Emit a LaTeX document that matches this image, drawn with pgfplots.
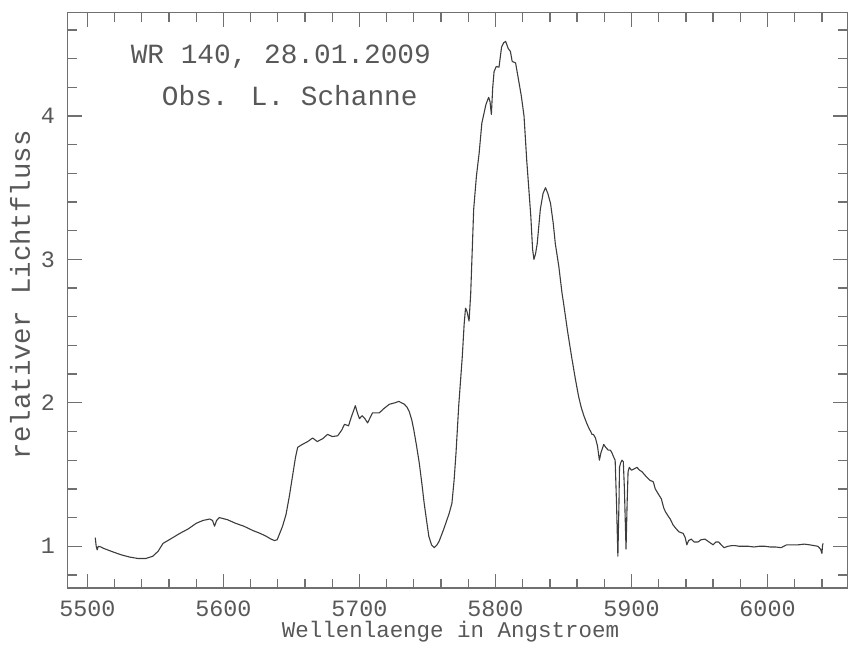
\documentclass[border=0pt]{standalone}
\usepackage{pgfplots}
\pgfplotsset{compat=1.18}
\usepackage{fontspec}
\newfontfamily\pf{Liberation Mono}
\definecolor{axgray}{HTML}{707070}
\definecolor{txtgray}{HTML}{585858}
\definecolor{linegray}{HTML}{3C3C3C}
\begin{document}
\begin{tikzpicture}
\begin{axis}[
  at={(0pt,0pt)}, anchor=north west,
  scale only axis, width=390.15pt, height=287.8pt,
  xmin=5485.5, xmax=6058.7, ymin=0.71, ymax=4.72,
  xtick={5500,5600,...,6000}, ytick={1,2,3,4},
  minor xtick={5500,5520,...,6040},
  minor ytick={0.8,1.2,1.4,1.6,1.8,2.2,2.4,2.6,2.8,3.2,3.4,3.6,3.8,4.2,4.4,4.6},
  tick align=inside, major tick length=7pt, minor tick length=4.5pt,
  axis line style={axgray, line width=0.65pt},
  tick style={axgray, line width=0.65pt},
  scaled x ticks=false,
  /pgf/number format/assume math mode=true,
  /pgf/number format/1000 sep={},
  xticklabel style={font=\pf\fontsize{11.7}{14}\selectfont, text=txtgray, anchor=center, yshift=-10.35pt},
  yticklabel style={font=\pf\fontsize{11.7}{14}\selectfont, text=txtgray, anchor=center, xshift=-9.85pt},
  xlabel={Wellenlaenge in Angstroem},
  xlabel style={at={(axis description cs:0.491,-0.0863)}, anchor=base, font=\pf\fontsize{11.25}{13}\selectfont, text=txtgray},
  ylabel={relativer Lichtfluss},
  ylabel style={at={(axis description cs:-0.0610,0.5096)}, anchor=center, font=\pf\fontsize{13.7}{15}\selectfont, text=txtgray},
  clip=false,
]
\addplot[linegray, line width=0.55pt, line join=round] coordinates {
(5505.8,1.06) (5506.5,1.00) (5507.2,0.975) (5508,1.00) (5510,0.995) (5512,0.985)
(5519,0.96) (5525,0.94) (5531,0.925) (5537,0.915) (5543,0.915) (5548,0.93)
(5552,0.965) (5555.6,1.02) (5561,1.05) (5568,1.09) (5574,1.12) (5580,1.16)
(5585,1.18) (5590,1.19) (5592,1.18) (5593.5,1.14) (5595,1.18) (5597,1.20)
(5603,1.185) (5609,1.16) (5615,1.14) (5621.6,1.11) (5627,1.09) (5631.4,1.07)
(5635,1.05) (5637.5,1.04) (5639.5,1.045) (5641,1.08) (5643.5,1.14) (5646,1.22)
(5648.5,1.35) (5651,1.50) (5653,1.62) (5654.6,1.69) (5658,1.71) (5662,1.73)
(5665.6,1.755) (5669,1.73) (5673,1.75) (5676.6,1.78) (5680,1.765) (5684,1.77)
(5687,1.81) (5689,1.85) (5692,1.84) (5694,1.90) (5697,1.98) (5698.5,1.93)
(5700,1.89) (5702,1.91) (5704,1.89) (5706,1.86) (5709.6,1.93) (5714.6,1.93)
(5718,1.96) (5722,1.99) (5726,2.00) (5729,2.01) (5733,1.99) (5735,1.97)
(5736.6,1.94) (5738.5,1.88) (5740,1.81) (5742,1.70) (5744,1.58) (5746,1.43)
(5747.6,1.30) (5749.5,1.17) (5751,1.07) (5753,1.01) (5755,0.99) (5757,1.01)
(5758.6,1.035) (5762,1.12) (5766,1.23) (5768,1.30) (5769.6,1.46) (5771,1.65)
(5773,1.98) (5775.6,2.32) (5777,2.55) (5778,2.66) (5779,2.64) (5780.6,2.57)
(5781.8,2.76) (5784,3.35) (5786,3.58) (5788,3.74) (5790,3.95) (5793,4.08)
(5795,4.13) (5796,4.10) (5797,4.01) (5798,4.20) (5799,4.31) (5800.6,4.345)
(5802.6,4.34) (5804.5,4.48) (5806,4.51) (5807.5,4.52) (5809.4,4.47) (5811,4.45)
(5812.3,4.38) (5814.8,4.37) (5817,4.25) (5819,4.14) (5821,4.00) (5823,3.69)
(5826,3.30) (5827.3,3.07) (5828.3,3.00) (5829.5,3.04) (5830.7,3.11) (5833,3.35)
(5835,3.46) (5836.8,3.50) (5838.5,3.46) (5840.5,3.39) (5842.5,3.25) (5844,3.11)
(5846.6,2.95) (5849,2.76) (5850,2.70) (5853,2.50) (5856,2.32) (5858.5,2.18)
(5861,2.05) (5863,1.97) (5865,1.91) (5867,1.86) (5868.6,1.825) (5870,1.80)
(5871,1.78) (5872,1.78) (5873.5,1.755) (5875,1.70) (5876.4,1.60) (5877.5,1.65)
(5879.6,1.71) (5881,1.69) (5883,1.67) (5884.5,1.67) (5885.7,1.65) (5887,1.62)
(5888,1.60) (5889,1.30) (5890,0.93) (5890.8,1.30) (5891.2,1.55) (5892,1.58)
(5893,1.60) (5894,1.59) (5894.8,1.40) (5896,0.98) (5896.8,1.30) (5897.5,1.52)
(5898.4,1.55) (5900,1.53) (5902,1.54) (5904,1.55) (5906,1.53) (5907.7,1.52)
(5909.5,1.50) (5911.4,1.48) (5913.5,1.46) (5916,1.45) (5917.5,1.40) (5920,1.36)
(5922,1.33) (5923.6,1.27) (5925,1.24) (5927,1.21) (5928.5,1.19) (5930.5,1.15)
(5933,1.12) (5935,1.10) (5938,1.09) (5939.5,1.06) (5940.7,1.01) (5942,1.04)
(5944,1.05) (5946,1.03) (5949,1.03) (5951,1.045) (5954,1.05) (5957,1.03)
(5960,1.01) (5962,1.03) (5964,1.03) (5966,1.01) (5968,0.99) (5971,1.00)
(5974,1.005) (5976,1.005) (5979,1.00) (5982,1.00) (5986,1.00) (5990,0.995)
(5994,1.00) (5998,1.00) (6002,0.995) (6006,0.995) (6010,0.99) (6012,1.00)
(6014,1.01) (6018,1.01) (6022.6,1.01) (6027,1.015) (6031,1.01) (6034,1.005)
(6037,1.00) (6039,0.98) (6040,0.95) (6040.5,1.01) (6041,1.02)
};
\node[font=\pf\fontsize{13.9}{16}\selectfont, text=txtgray, anchor=base] at (rel axis cs:0.2734,0.9121) {WR 140, 28.01.2009};
\node[font=\pf\fontsize{13.9}{16}\selectfont, text=txtgray, anchor=base] at (rel axis cs:0.2849,0.8379) {Obs. L. Schanne};
\end{axis}
\path (-33.85pt,6.35pt) rectangle (390.15pt,-315.65pt);
\end{tikzpicture}
\end{document}
